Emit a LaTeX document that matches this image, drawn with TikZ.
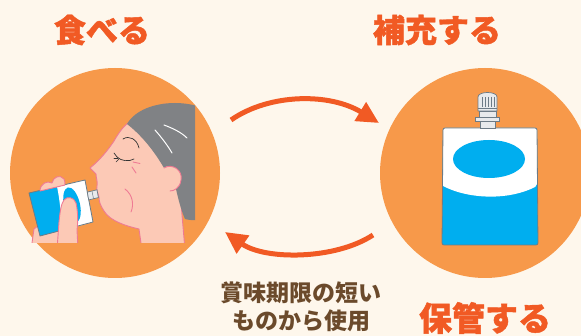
\documentclass[tikz,border=0pt]{standalone}
\usepackage{fontspec}
\newfontfamily\jp{Noto Sans CJK JP}[BoldFeatures={FakeBold=1.3}]
\newfontfamily\jpnote{Noto Sans CJK JP}
\usetikzlibrary{arrows.meta}
\definecolor{bgcream}{HTML}{FEF7EC}
\definecolor{circorange}{HTML}{F7994A}
\definecolor{arroworange}{HTML}{F15A24}
\definecolor{titleorange}{HTML}{F15A24}
\definecolor{notebrown}{HTML}{6B4A2B}
\definecolor{skin}{HTML}{FCC9B6}
\definecolor{skinline}{HTML}{EF7A94}
\definecolor{hairgrey}{HTML}{808285}
\definecolor{packblue}{HTML}{00AEEF}
\definecolor{packline}{HTML}{6D7B86}
\definecolor{capgrey}{HTML}{E8EAEC}
\begin{document}
\begin{tikzpicture}[x=1pt,y=-1pt,
  disc/.style={circle, fill=circorange, minimum size=210pt, inner sep=0pt},
  title/.style={text=titleorange, font=\jp\bfseries\fontsize{32}{36}\selectfont, inner sep=0pt},
  note/.style={text=notebrown, font=\jpnote\bfseries\fontsize{23}{28}\selectfont, align=center, inner sep=0pt},
  cycle arrow/.style={draw=arroworange, line width=5pt, -{Triangle[length=22pt,width=21pt]}},
  skinpart/.style={fill=skin, draw=skinline, line width=0.9pt, line join=round},
  skinedge/.style={draw=skinline, line width=0.9pt, line cap=round},
  facefeature/.style={draw=black!80, line width=0.7pt, line cap=round},
  packedge/.style={draw=packline, line width=0.8pt, line join=round}]
\useasboundingbox (0,0) rectangle (581,336);
\clip (0,0) rectangle (581,336);
\fill[bgcream] (0,0) rectangle (581,336);

% the two pictures on orange discs
\node[disc] (eat) at (115,173) {};
\node[disc] (keep) at (485,173) {};

% titles
\node[title] (eatlabel) at (102,30) {食べる};
\node[title] (filllabel) at (437,30) {補充する};
\node[title, font=\jp\bfseries\fontsize{33}{36}\selectfont] (storelabel) at (485,318) {保管する};
\node[note] (hint) at (301,307) {賞味期限の短い\\ものから使用};

% cycle arrows
\coordinate (topstart) at (231,120);
\coordinate (topend) at (379,123);
\coordinate (botstart) at (373,235);
\coordinate (botend) at (225,232);
\draw[cycle arrow] (topstart) .. controls (270,93) and (330,93) .. (topend);
\draw[cycle arrow] (botstart) .. controls (335,260) and (265,260) .. (botend);

% ---- person drinking from a pouch ----
\begin{scope}
\clip (20,95) rectangle (195,243);
% face and neck
\path[skinpart] (142,250) -- (139,229)
  .. controls (126,226) and (110,221) .. (104,211)
  .. controls (100,205) and (99,201) .. (99,197)
  .. controls (98,193) and (96,190) .. (97,186)
  .. controls (98,182) and (96,178) .. (96,174)
  -- (90,168)
  .. controls (100,160) and (108,150) .. (114,141)
  .. controls (119,132) and (124,126) .. (129,122)
  -- (165,104) -- (180,190) -- (182,215) -- (185,250) -- cycle;
% hair
\fill[hairgrey] (127,124) .. controls (135,110) and (155,103) .. (175,103)
  .. controls (185,103) and (195,105) .. (200,107) -- (200,219)
  .. controls (194,221) and (189,220) .. (185,219)
  .. controls (181,210) and (178,198) .. (176,189) -- (164,168)
  .. controls (157,156) and (145,138) .. (127,124) -- cycle;
\draw[white, line width=1pt, line cap=round] (155,130) .. controls (162,138) and (168,146) .. (172,153);
\draw[white, line width=1pt, line cap=round] (164,125) .. controls (172,128) and (181,132) .. (187,138);
% ear
\fill[skin] (163,168) .. controls (172,163) and (183,170) .. (181,180)
  .. controls (180,188) and (174,191) .. (170,191) -- (165,182) -- cycle;
\draw[skinedge] (164,168) .. controls (172,163) and (183,170) .. (181,180)
  .. controls (180,188) and (174,191) .. (170,191);
% eyebrow, closed eye, lashes
\draw[facefeature] (123,139) .. controls (129,135) and (137,139) .. (139,148);
\draw[facefeature] (117,157) .. controls (121,161) and (129,162) .. (134,159);
\draw[facefeature] (117,157) -- (114,153);
\draw[facefeature] (118,158) -- (114,158);
\draw[facefeature] (119,159) -- (116,162);
% wrinkles and jaw
\draw[skinedge] (133,162) -- (140,163.5);
\draw[skinedge] (132,167) -- (136,173);
\draw[skinedge] (125,189) .. controls (133,195) and (134,205) .. (131,212);
% palm behind the pouch
\path[skinpart] (31,250) -- (34,229) .. controls (40,223) and (55,221) .. (62,223) -- (62,250) -- cycle;
% pouch held in the hand
\coordinate (pTL) at (29,193);
\coordinate (pTR) at (85,180);
\coordinate (pBR) at (93,222);
\coordinate (pBL) at (40,236);
\fill[packblue] (pTL) -- (pTR) -- (pBR) -- (pBL) -- cycle;
\fill[white] (57,186.5) -- (pTR) -- (pBR) -- (63,230.5)
  .. controls (61,217) and (60,200) .. (57,186.5) -- cycle;
\fill[packblue, rotate around={13:(72,205)}] (72,205) ellipse [x radius=8pt, y radius=18pt];
\draw[packedge] (pTL) -- (pTR) -- (pBR) -- (pBL) -- cycle;
\filldraw[fill=capgrey, draw=packline, line width=0.7pt] (87.3,192.1) -- (97,189.8) -- (98.4,197.6) -- (88.7,199.9) -- cycle;
\draw[packline, line width=0.5pt] (92,191) -- (93.5,198.8);
% fingers over the top edge and in front
\path[skinpart] (40,191) .. controls (40,184) and (47,180) .. (52,183)
  .. controls (53,177) and (60,174) .. (64,179)
  .. controls (65,181) and (65,183) .. (65,185) -- cycle;
\path[skinpart] (57,250) -- (59,222) .. controls (60,212) and (61,204) .. (64,200)
  .. controls (67,196) and (74,197) .. (76,203)
  .. controls (78,212) and (78,222) .. (77,230) -- (78,250) -- cycle;
\end{scope}

% ---- spouted pouch ----
\fill[packblue, rounded corners=2pt] (443,128) -- (537,128) -- (538,245) -- (442,245) -- cycle;
\fill[white, rounded corners=2pt] (443,186) -- (443,128) -- (537,128) -- (537,186) [sharp corners]
  .. controls (510,200) and (470,200) .. (443,186);
\fill[packblue] (489,159) ellipse [x radius=36pt, y radius=19pt];
\draw[packedge, rounded corners=2pt] (443,128) -- (537,128) -- (538,245) -- (442,245) -- cycle;
% spout neck, flange and cap
\filldraw[fill=capgrey, draw=packline, line width=0.7pt] (480,121) rectangle (495,128);
\filldraw[fill=capgrey, draw=packline, line width=0.7pt] (475,117.5) rectangle (499,121);
\filldraw[fill=capgrey, draw=packline, line width=0.7pt] (479,111) rectangle (496,117.5);
\filldraw[fill=capgrey, draw=packline, line width=0.7pt] (478,111) -- (478,97)
  .. controls (478,91) and (497,91) .. (497,97) -- (497,111) -- cycle;
\foreach \rx in {482,485,488,491,494}
  \draw[packline, line width=0.5pt] (\rx,97) -- (\rx,107);
\draw[packline, line width=0.5pt] (478,108) -- (497,108);
\end{tikzpicture}
\end{document}
